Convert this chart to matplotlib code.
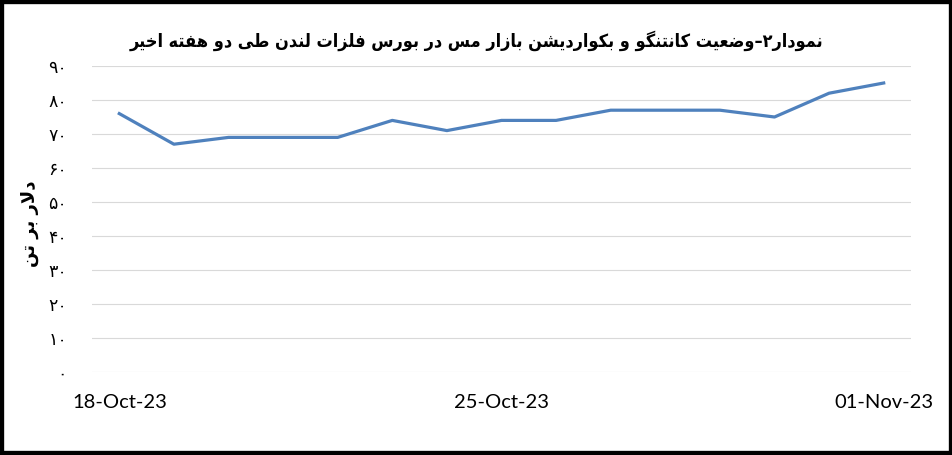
import matplotlib
matplotlib.use("Agg")
import matplotlib.pyplot as plt
from matplotlib.patches import Rectangle

# data
dates = ['18-Oct-23', '19-Oct-23', '20-Oct-23', '21-Oct-23', '22-Oct-23',
         '23-Oct-23', '24-Oct-23', '25-Oct-23', '26-Oct-23', '27-Oct-23',
         '28-Oct-23', '29-Oct-23', '30-Oct-23', '31-Oct-23', '01-Nov-23']
spread = [76, 67, 69, 69, 69, 74, 71, 74, 74, 77, 77, 77, 75, 82, 85]
yticks = [0, 10, 20, 30, 40, 50, 60, 70, 80, 90]

title = 'نمودار۲–وضعیت کانتنگو و بکواردیشن بازار مس در بورس فلزات لندن طی دو هفته اخیر'
ylabel = 'دلار بر تن'

# minimal persian shaping (matplotlib has no shaping / bidi)
FORMS = {
    'ا': ('\uFE8D', '\uFE8E', None, None),
    'آ': ('\uFE81', '\uFE82', None, None),
    'ب': ('\uFE8F', '\uFE90', '\uFE91', '\uFE92'),
    'پ': ('\uFB56', '\uFB57', '\uFB58', '\uFB59'),
    'ت': ('\uFE95', '\uFE96', '\uFE97', '\uFE98'),
    'ث': ('\uFE99', '\uFE9A', '\uFE9B', '\uFE9C'),
    'ج': ('\uFE9D', '\uFE9E', '\uFE9F', '\uFEA0'),
    'چ': ('\uFB7A', '\uFB7B', '\uFB7C', '\uFB7D'),
    'ح': ('\uFEA1', '\uFEA2', '\uFEA3', '\uFEA4'),
    'خ': ('\uFEA5', '\uFEA6', '\uFEA7', '\uFEA8'),
    'د': ('\uFEA9', '\uFEAA', None, None),
    'ذ': ('\uFEAB', '\uFEAC', None, None),
    'ر': ('\uFEAD', '\uFEAE', None, None),
    'ز': ('\uFEAF', '\uFEB0', None, None),
    'ژ': ('\uFB8A', '\uFB8B', None, None),
    'س': ('\uFEB1', '\uFEB2', '\uFEB3', '\uFEB4'),
    'ش': ('\uFEB5', '\uFEB6', '\uFEB7', '\uFEB8'),
    'ص': ('\uFEB9', '\uFEBA', '\uFEBB', '\uFEBC'),
    'ض': ('\uFEBD', '\uFEBE', '\uFEBF', '\uFEC0'),
    'ط': ('\uFEC1', '\uFEC2', '\uFEC3', '\uFEC4'),
    'ظ': ('\uFEC5', '\uFEC6', '\uFEC7', '\uFEC8'),
    'ع': ('\uFEC9', '\uFECA', '\uFECB', '\uFECC'),
    'غ': ('\uFECD', '\uFECE', '\uFECF', '\uFED0'),
    'ف': ('\uFED1', '\uFED2', '\uFED3', '\uFED4'),
    'ق': ('\uFED5', '\uFED6', '\uFED7', '\uFED8'),
    'ک': ('\uFB8E', '\uFB8F', '\uFB90', '\uFB91'),
    'گ': ('\uFB92', '\uFB93', '\uFB94', '\uFB95'),
    'ل': ('\uFEDD', '\uFEDE', '\uFEDF', '\uFEE0'),
    'م': ('\uFEE1', '\uFEE2', '\uFEE3', '\uFEE4'),
    'ن': ('\uFEE5', '\uFEE6', '\uFEE7', '\uFEE8'),
    'و': ('\uFEED', '\uFEEE', None, None),
    'ه': ('\uFEE9', '\uFEEA', '\uFEEB', '\uFEEC'),
    'ی': ('\uFBFC', '\uFBFD', '\uFBFE', '\uFBFF'),
}


def shape(text):
    out = []
    i = 0
    n = len(text)
    while i < n:
        ch = text[i]
        prev = text[i - 1] if i > 0 else ''
        nxt = text[i + 1] if i < n - 1 else ''
        join_prev = prev in FORMS and FORMS[prev][2] is not None
        if ch == 'ل' and nxt in ('ا', 'آ'):
            if nxt == 'ا':
                out.append('\uFEFC' if join_prev else '\uFEFB')
            else:
                out.append('\uFEF6' if join_prev else '\uFEF5')
            i += 2
            continue
        if ch not in FORMS:
            out.append(ch)
            i += 1
            continue
        iso, fin, ini, med = FORMS[ch]
        join_next = ini is not None and nxt in FORMS
        if join_prev and join_next:
            out.append(med)
        elif join_prev:
            out.append(fin)
        elif join_next:
            out.append(ini)
        else:
            out.append(iso)
        i += 1
    return ''.join(reversed(out))


def fa_digits(v):
    return ''.join(chr(0x06F0 + int(c)) for c in str(v))


fig = plt.figure(figsize=(9.53, 4.55), dpi=100)
ax = fig.add_axes([92 / 953, 1 - 372 / 455, 819 / 953, 306 / 455])

x = list(range(len(dates)))
ax.plot(x, spread, color='#4F81BD', linewidth=2.3, solid_joinstyle='round')

ax.set_xlim(-0.5, len(dates) - 0.5)
ax.set_ylim(0, 90)
ax.set_yticks(yticks)
ax.set_yticklabels([fa_digits(v) for v in yticks], fontsize=12.5, family='DejaVu Sans')
ax.set_xticks(x[::7])
ax.set_xticklabels(dates[::7], fontsize=14.5, family='Lato')
ax.tick_params(length=0)
ax.tick_params(axis='y', pad=18)
ax.tick_params(axis='x', pad=16)
ax.grid(axis='y', color='#D9D9D9', linewidth=0.8)
ax.set_axisbelow(True)
for s in ax.spines.values():
    s.set_visible(False)

fig.text(0.5, 1 - 41 / 455, shape(title), ha='center', va='center',
         fontsize=13, fontweight='bold', family='DejaVu Sans',
         fontstretch='condensed')
fig.text(30 / 953, 1 - 224 / 455, shape(ylabel), ha='center', va='center',
         rotation=90, fontsize=13, fontweight='bold', family='DejaVu Sans')

fig.add_artist(Rectangle((0, 0), 1, 1, transform=fig.transFigure, fill=False,
                         edgecolor='black', linewidth=6))

fig.savefig('out.png', dpi=100)
